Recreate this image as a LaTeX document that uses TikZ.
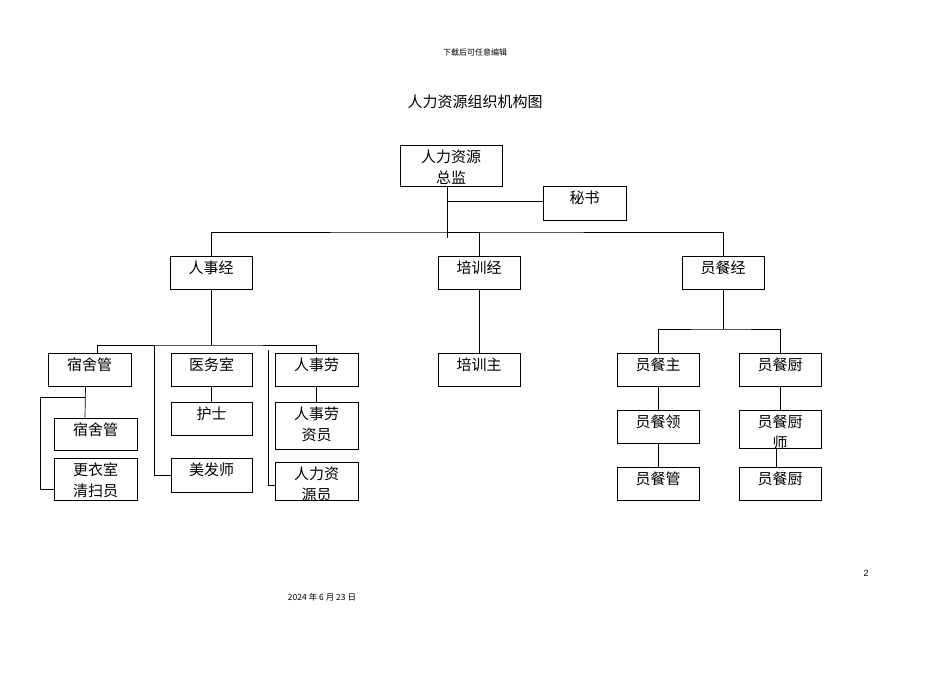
\documentclass[tikz,border=0pt]{standalone}
\usepackage{fontspec}
\setmainfont{Liberation Sans}
\newfontfamily\cjk{Noto Sans CJK SC}
\tikzset{
  box/.style={draw=black, line width=0.8pt, inner sep=0pt},
  txt/.style={font=\cjk\fontsize{15}{21}\selectfont, align=center, inner sep=0pt},
  link/.style={draw=black, line width=0.7pt}
}
\newcommand\orgbox[6]{%
  \node[box, minimum width=#4pt, minimum height=#5pt] (#1) at (#2,#3) {};
  \begin{scope}
    \clip (#1.south west) rectangle (#1.north east);
    \node[txt, anchor=north] at ([yshift=-5pt]#1.north) {#6};
  \end{scope}}
\begin{document}
\begin{tikzpicture}[x=1pt,y=-1pt]
\useasboundingbox (0,0) rectangle (950,672);

% page texts
\node[font=\cjk\fontsize{8}{10}\selectfont] (head) at (475,52) {下载后可任意编辑};
\node[font=\cjk\fontsize{15}{18}\selectfont] (title) at (475,102) {人力资源组织机构图};
\node[font=\fontsize{9}{11}\selectfont] (page) at (866,573) {2};
\node[font=\cjk\fontsize{8.5}{10}\selectfont] (date) at (322,597) {2024 年 6 月 23 日};

% boxes
\orgbox{boss}{451}{165.5}{102}{41}{人力资源\\总监}
\orgbox{sec}{584.5}{203}{83}{34}{秘书}
\orgbox{hr}{211}{272.5}{82}{33}{人事经}
\orgbox{tr}{479}{272.5}{82}{33}{培训经}
\orgbox{st}{723}{272.5}{82}{33}{员餐经}
\orgbox{dorm}{89.5}{369.5}{83}{33}{宿舍管}
\orgbox{med}{211.5}{369.5}{81}{33}{医务室}
\orgbox{lab}{316.5}{369.5}{83}{33}{人事劳}
\orgbox{trm}{479}{369.5}{82}{33}{培训主}
\orgbox{stm}{658}{369.5}{82}{33}{员餐主}
\orgbox{ck}{780}{369.5}{82}{33}{员餐厨}
\orgbox{dorm2}{95.5}{434}{83}{32}{宿舍管}
\orgbox{room}{95.5}{479}{83}{42}{更衣室\\清扫员}
\orgbox{nurse}{211.5}{418.5}{81}{33}{护士}
\orgbox{hair}{211.5}{475}{81}{34}{美发师}
\orgbox{lab2}{316.5}{425.5}{83}{47}{人事劳\\资员}
\orgbox{hrs}{316.5}{481}{83}{38}{人力资\\源员}
\orgbox{lead}{658}{426.5}{82}{33}{员餐领}
\orgbox{ck2}{780}{429}{82}{38}{员餐厨\\师}
\orgbox{mgr}{658}{483.5}{82}{33}{员餐管}
\orgbox{ck3}{780}{483.5}{82}{33}{员餐厨}

% connectors
\coordinate (bus) at (447,232);
\draw[link] ([xshift=-4pt]boss.south) -- (447,238);
\draw[link] (447,201) -- (sec.west |- 447,201);
\draw[link] (hr.north) |- (bus) -| (st.north);
\draw[link] (bus) -| (tr.north);
\draw[link] (tr.south) -- (trm.north);
\draw[link] (hr.south) -- (211,345) coordinate (hrbus);
\draw[link] ([xshift=8pt]dorm.north) |- (hrbus) -| (lab.north);
\draw[link] (154,345) |- (hair.west);
\draw[link] (268,350) |- ([yshift=-4pt]hrs.west);
\draw[link] ([xshift=-4pt]dorm.south) -- (dorm2.north -| 85,0);
\draw[link] (85,397) -- (40,397) |- ([yshift=-10pt]room.west);
\draw[link] (med.south) -- (nurse.north);
\draw[link] (lab.south) -- (lab2.north);
\draw[link] (st.south) -- (723,329) coordinate (stbus);
\draw[link] (stm.north) |- (stbus) -| (ck.north);
\draw[link] (stm.south) -- (lead.north);
\draw[link] (lead.south) -- (mgr.north);
\draw[link] (ck.south) -- (ck2.north);
\draw[link] ([xshift=-4pt]ck2.south) -- ([xshift=-4pt]ck3.north);
\end{tikzpicture}
\end{document}
